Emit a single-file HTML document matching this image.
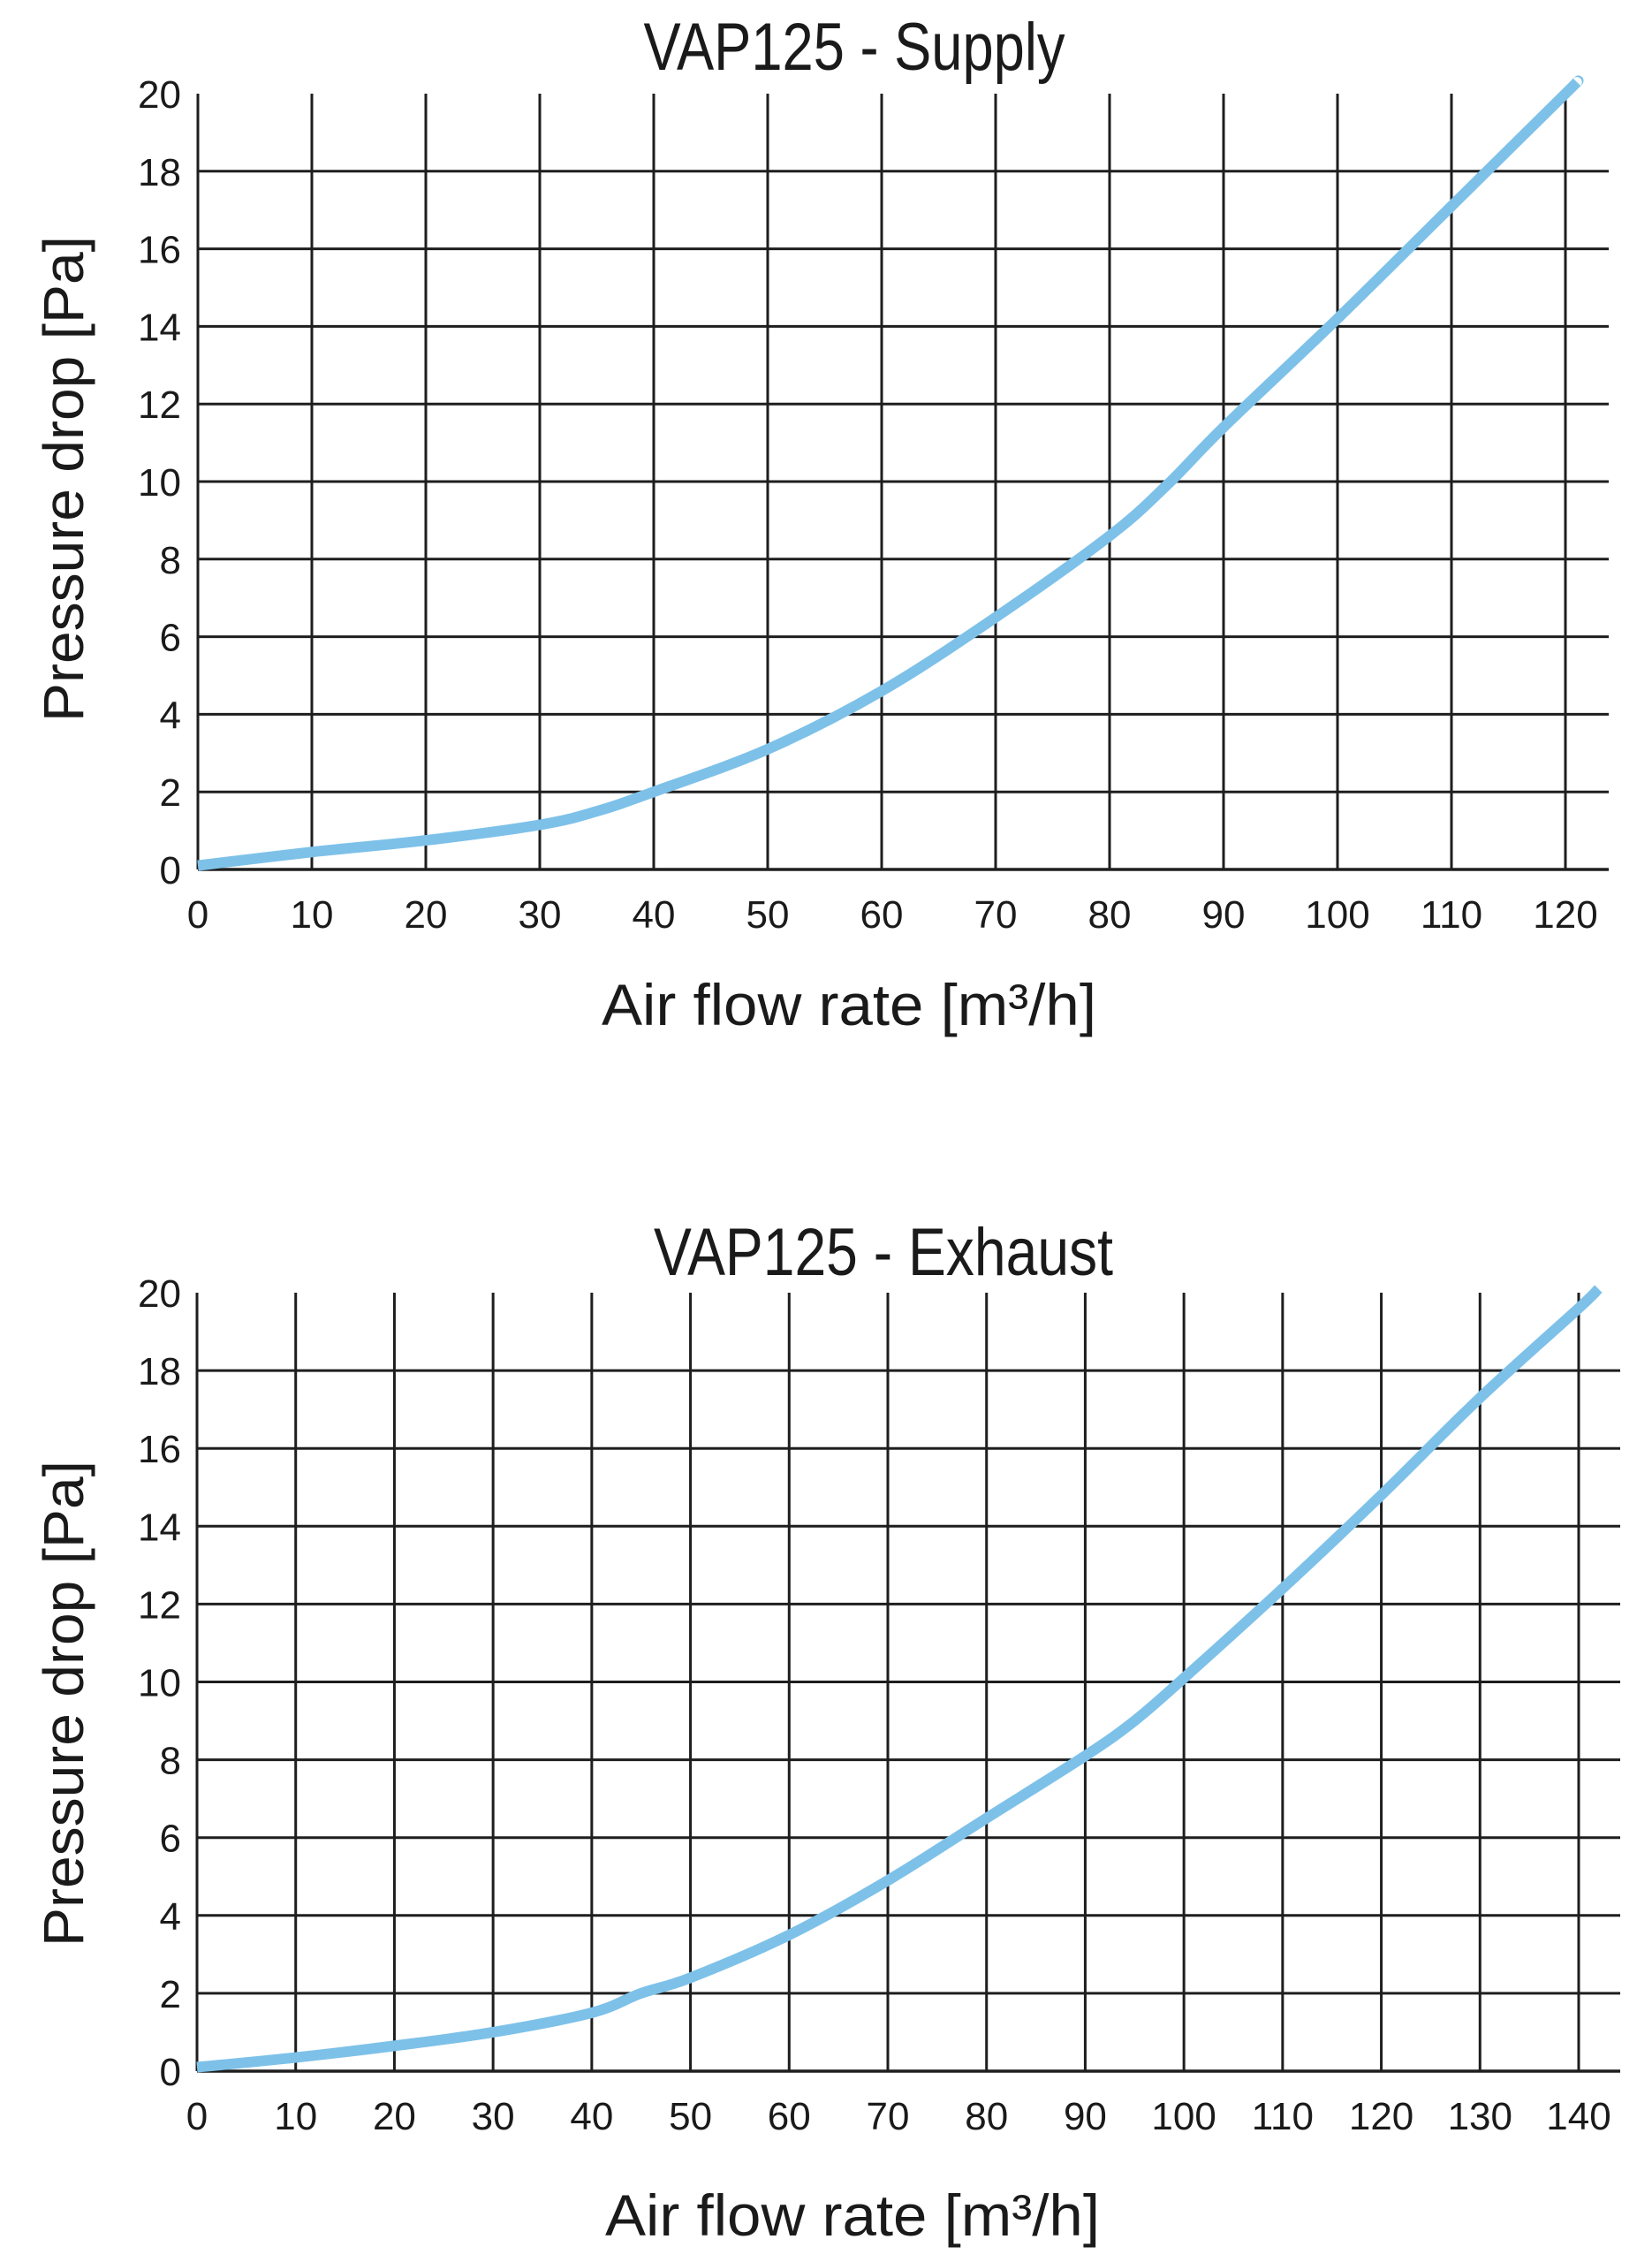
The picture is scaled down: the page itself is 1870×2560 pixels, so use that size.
<!DOCTYPE html>
<html><head><meta charset="utf-8">
<style>
html,body{margin:0;padding:0;background:#fff;}
svg{display:block;}
text{font-family:"Liberation Sans",sans-serif;fill:#1a1a1a;}
</style></head>
<body>
<svg id="svg" width="1870" height="2560" viewBox="0 0 1870 2560" xmlns="http://www.w3.org/2000/svg">
<g id="c1"></g>
<g id="c2"></g>
</svg>
<script>
// Supply chart data
const supplyX = [0, 10, 20, 30, 35, 40, 50, 60, 70, 80, 85, 90, 100, 110, 120, 121];
const supplyY = [0.1, 0.45, 0.75, 1.15, 1.5, 2.0, 3.1, 4.6, 6.5, 8.6, 9.9, 11.4, 14.2, 17.1, 20.0, 20.3];
const supplyXTicks = [0,10,20,30,40,50,60,70,80,90,100,110,120];
// Exhaust chart data
const exhaustX = [0, 10, 20, 30, 40, 45, 50, 60, 70, 80, 90, 95, 100, 110, 120, 130, 140, 142];
const exhaustY = [0.1, 0.35, 0.65, 1.0, 1.5, 2.0, 2.4, 3.5, 4.9, 6.5, 8.1, 9.0, 10.1, 12.4, 14.8, 17.3, 19.6, 20.1];
const exhaustXTicks = [0,10,20,30,40,50,60,70,80,90,100,110,120,130,140];
const yTicks = [0,2,4,6,8,10,12,14,16,18,20];

const NS = "http://www.w3.org/2000/svg";
function mk(parent, tag, attrs, txt){
  const e = document.createElementNS(NS, tag);
  for (const k in attrs) e.setAttribute(k, attrs[k]);
  if (txt !== undefined) e.textContent = txt;
  parent.appendChild(e);
  return e;
}

function drawChart(g, cfg){
  const xs = v => cfg.x0 + (v / cfg.xMax) * (cfg.x1 - cfg.x0);
  const ys = v => cfg.y0 - (v / 20) * (cfg.y0 - cfg.y20);
  // title
  const t = mk(g, 'text', {x: cfg.titleX, y: cfg.titleY, 'font-size': 76, 'text-anchor':'middle', textLength: cfg.titleLen, lengthAdjust:'spacingAndGlyphs'}, cfg.title);
  
  
  // horizontal grid
  yTicks.forEach(v => {
    if (v === 20) return;
    const l = mk(g, 'line', {x1: cfg.x0, x2: cfg.gridRight, y1: ys(v), y2: ys(v), stroke:'#1e1e1e', 'stroke-width': v===0?3.5:3});
    
    
  });
  yTicks.forEach(v => {
    const tl = mk(g, 'text', {x: 205, y: ys(v) + 16, 'font-size': 44, 'text-anchor':'end'}, String(v));
    
    
  });
  // vertical grid
  cfg.xTicks.forEach(v => {
    const l = mk(g, 'line', {x1: xs(v), x2: xs(v), y1: cfg.y20, y2: cfg.y0, stroke:'#1e1e1e', 'stroke-width': 3});
    
    
    const tl = mk(g, 'text', {x: xs(v), y: cfg.y0 + 66, 'font-size': 44, 'text-anchor':'middle'}, String(v));
    
    
  });
  // axis titles
  const xt = mk(g, 'text', {x: cfg.xTitleX, y: cfg.xTitleY, 'font-size': 66, 'text-anchor':'middle', textLength: 560, lengthAdjust:'spacingAndGlyphs'}, 'Air flow rate [m³/h]');
  
  
  const yt = mk(g, 'text', {x: 0, y: 0, 'font-size': 64, 'text-anchor':'middle', textLength: 550, lengthAdjust:'spacingAndGlyphs', transform: 'translate(94,' + cfg.yTitleY + ') rotate(-90)'}, 'Pressure drop [Pa]');
  
  
  // curve (Catmull-Rom)
  const pts = cfg.dx.map((v, i) => [xs(v), ys(cfg.dy[i])]);
  let d = 'M' + pts[0][0] + ',' + pts[0][1];
  for (let i = 0; i < pts.length - 1; i++){
    const p0 = pts[Math.max(0, i-1)], p1 = pts[i], p2 = pts[i+1], p3 = pts[Math.min(pts.length-1, i+2)];
    const c1x = p1[0] + (p2[0]-p0[0])/6, c1y = p1[1] + (p2[1]-p0[1])/6;
    const c2x = p2[0] - (p3[0]-p1[0])/6, c2y = p2[1] - (p3[1]-p1[1])/6;
    d += ' C' + c1x + ',' + c1y + ' ' + c2x + ',' + c2y + ' ' + p2[0] + ',' + p2[1];
  }
  const c = mk(g, 'path', {d: d, fill:'none', stroke:'#7dc1e9', 'stroke-width': 12});
  
  
}

drawChart(document.getElementById('c1'), {
  title:'VAP125 - Supply', titleX: 967, titleY: 79, titleLen: 477,
  x0: 224, x1: 1772, xMax: 120, gridRight: 1821, y0: 984, y20: 106,
  xTicks: supplyXTicks, dx: supplyX, dy: supplyY,
  xTitleX: 961, xTitleY: 1160, yTitleY: 542
});
drawChart(document.getElementById('c2'), {
  title:'VAP125 - Exhaust', titleX: 1000, titleY: 1443, titleLen: 520,
  x0: 223, x1: 1787, xMax: 140, gridRight: 1834, y0: 2344, y20: 1463,
  xTicks: exhaustXTicks, dx: exhaustX, dy: exhaustY,
  xTitleX: 965, xTitleY: 2530, yTitleY: 1928
});
</script>
</body></html>
